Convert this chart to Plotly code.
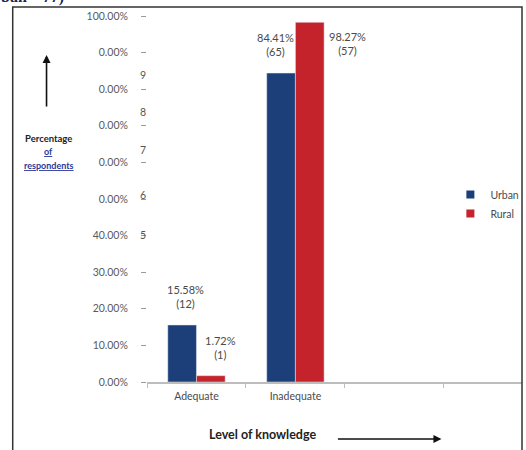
import plotly.graph_objects as go

# ---- data -------------------------------------------------------------
categories = ["Adequate", "Inadequate"]
urban_pct = [15.58, 84.41]
rural_pct = [1.72, 98.27]
urban_n = [12, 65]
rural_n = [1, 57]

y_tickvals = [0, 10, 20, 30, 40, 50, 60, 70, 80, 90, 100]
y_ticktext = ["0.00%", "10.00%", "20.00%", "30.00%", "40.00%",
              "0.00%", "0.00%", "0.00%", "0.00%", "0.00%", "100.00%"]
stray_digits = ["9", "8", "7", "6", "5"]

URBAN = "#1c3f7a"
RURAL = "#c4232b"
GREY_TXT = "#4a4a4a"
FONT = "Lato"

W, H = 526, 450
L, R, T, B = 147, 2, 16, 68
BARGAP = 0.42


def px_x(px):
    return (px - L) / (W - L - R)


def px_y(py):
    return (H - B - py) / (H - T - B)


pos = list(range(len(categories)))

fig = go.Figure()
fig.add_trace(go.Bar(x=pos, y=urban_pct, name="Urban", marker_color=URBAN,
                     showlegend=False))
fig.add_trace(go.Bar(x=pos, y=rural_pct, name="Rural", marker_color=RURAL,
                     showlegend=False))
# legend keys
for name, col in [("Urban", URBAN), ("Rural", RURAL)]:
    fig.add_trace(go.Scatter(x=[None], y=[None], mode="markers", name=name,
                             marker=dict(symbol="square", size=8, color=col)))

# value labels above the bars (small horizontal nudges per label)
half = (1 - BARGAP) / 4
label_dx = {"Urban": [3, -6], "Rural": [10, 0]}
annots = []
for name, vals, ns, sign in [("Urban", urban_pct, urban_n, -1),
                             ("Rural", rural_pct, rural_n, 1)]:
    for i, (p, v, n) in enumerate(zip(pos, vals, ns)):
        txt = f"{v:.2f}%<br>({n})"
        lab_font = dict(family=FONT, size=11, color=GREY_TXT)
        if v > 95:
            # no headroom above: set the label beside the bar's top
            annots.append(dict(x=p + sign * 2 * half, y=v, text=txt,
                               showarrow=False, xanchor="left", yanchor="top",
                               xshift=3, yshift=-6, font=lab_font))
        else:
            annots.append(dict(x=p + sign * half, y=v, text=txt, showarrow=False,
                               xanchor="center", yanchor="bottom",
                               xshift=label_dx[name][i], yshift=13,
                               font=lab_font))

# stray digits beside the y tick labels
for d, py in zip(stray_digits, [75, 112, 150, 195, 235]):
    annots.append(dict(xref="paper", yref="paper", x=px_x(143), y=px_y(py),
                       xanchor="center", yanchor="middle",
                       text=d, showarrow=False,
                       font=dict(family=FONT, size=10.5, color="#555")))

# y-axis caption with upward arrow
cap = [("<b>Percentage</b>", 138, "#222", 9.5),
       ("<b><u>of</u></b>", 151, "#2a3a9a", 9),
       ("<b><u>respondents</u></b>", 165, "#2a3a9a", 9)]
for txt, py, col, sz in cap:
    annots.append(dict(xref="paper", yref="paper", x=px_x(48), y=px_y(py),
                       xanchor="center", yanchor="middle",
                       text=txt, showarrow=False,
                       font=dict(family=FONT, size=sz, color=col)))
annots.append(dict(xref="paper", yref="paper", x=px_x(46), y=px_y(55),
                   text="", showarrow=True, ax=0, ay=53,
                   arrowhead=2, arrowsize=1, arrowwidth=1.6, arrowcolor="#111"))

# x-axis caption with rightward arrow
annots.append(dict(xref="paper", yref="paper", x=px_x(263), y=px_y(434),
                   xanchor="center", yanchor="middle",
                   text="<b>Level of knowledge</b>", showarrow=False,
                   font=dict(family=FONT, size=12.5, color="#222")))
annots.append(dict(xref="paper", yref="paper", x=px_x(443), y=px_y(439),
                   text="", showarrow=True, ax=-105, ay=0,
                   arrowhead=2, arrowsize=1, arrowwidth=1.6, arrowcolor="#111"))

# cut-off heading fragment at the very top
annots.append(dict(xref="paper", yref="paper", x=px_x(-2), y=px_y(8),
                   xanchor="left", yanchor="bottom", text="<b>ban – 77)</b>",
                   showarrow=False,
                   font=dict(family="Liberation Serif", size=16, color="#1c2452")))

boundaries = [p - 0.5 for p in pos] + [pos[-1] + 0.5, pos[-1] + 1.5]

fig.update_layout(
    width=W, height=H,
    margin=dict(l=L, r=R, t=T, b=B),
    paper_bgcolor="white", plot_bgcolor="white",
    barmode="group", bargap=BARGAP, bargroupgap=0,
    font=dict(family=FONT, size=10, color=GREY_TXT),
    annotations=annots,
    legend=dict(x=px_x(452), y=px_y(204), xanchor="left", yanchor="middle",
                font=dict(family=FONT, size=10.5, color=GREY_TXT),
                bgcolor="rgba(0,0,0,0)", itemwidth=30, tracegroupgap=0),
    shapes=[dict(type="rect", xref="paper", yref="paper",
                 x0=px_x(12), x1=px_x(524), y0=px_y(470), y1=px_y(7),
                 line=dict(color="#333", width=1.5), layer="above")],
    xaxis=dict(range=[-0.5, 3.29], tickmode="array", tickvals=pos,
               ticktext=categories, ticks="", showline=True,
               linecolor="#bdbdbd", linewidth=1.5, showgrid=False,
               zeroline=False, ticklabelstandoff=4,
               tickfont=dict(family=FONT, size=10.5, color=GREY_TXT),
               minor=dict(tickmode="array", tickvals=boundaries,
                          ticks="outside", ticklen=4, tickcolor="#bdbdbd",
                          showgrid=False)),
    yaxis=dict(range=[0, 100], tickmode="array", tickvals=y_tickvals,
               ticktext=y_ticktext, ticks="outside", ticklen=5,
               tickcolor="#9a9a9a", showline=False, showgrid=False,
               zeroline=False, ticklabelstandoff=11,
               tickfont=dict(family=FONT, size=10.5, color="#5a5a5a")),
)

fig.write_html("out.html")
